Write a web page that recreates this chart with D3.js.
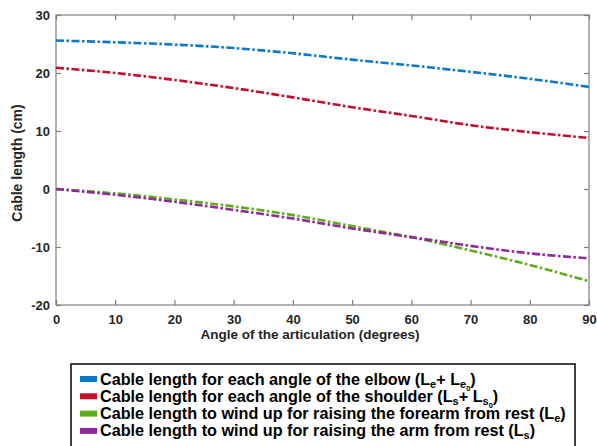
<!DOCTYPE html>
<html>
<head>
<meta charset="utf-8">
<script src="https://cdn.jsdelivr.net/npm/d3@7"></script>
<style>
  body { margin: 0; background: #fff; }
  svg { display: block; font-family: "Liberation Sans", Arial, sans-serif; }
</style>
</head>
<body>
<div id="chart"></div>
<script>
// angles in degrees
const angles = [0, 10, 20, 30, 40, 50, 60, 70, 80, 90];

// cable lengths (cm)
const elbowTotal    = [25.6, 25.3, 24.9, 24.3, 23.4, 22.3, 21.3, 20.2, 19.0, 17.6];
const shoulderTotal = [20.9, 20.0, 18.8, 17.4, 15.8, 14.1, 12.6, 11.0, 9.8, 8.8];
const forearmWind   = [0, -0.75, -1.8, -3.0, -4.5, -6.4, -8.3, -10.6, -13.1, -15.9];
const armWind       = [0, -1.0, -2.2, -3.6, -5.1, -6.8, -8.3, -9.8, -11.1, -11.95];

const xTicks = [0, 10, 20, 30, 40, 50, 60, 70, 80, 90];
const yTicks = [-20, -10, 0, 10, 20, 30];

const seriesColors = ["#0a78cc", "#c40f2c", "#5fac1f", "#92299a"];
const seriesValues = [elbowTotal, shoulderTotal, forearmWind, armWind];

const width = 597, height = 446;
const margin = { left: 56, right: 8, top: 15, bottom: 141 };

const svg = d3.select("#chart").append("svg")
    .attr("width", width)
    .attr("height", height);

const x = d3.scaleLinear()
    .domain([0, 90])
    .range([margin.left, width - margin.right]);

const y = d3.scaleLinear()
    .domain([-20, 30])
    .range([height - margin.bottom, margin.top]);

const axisColor = "#7f7f7f";
const textColor = "#262626";
const fmt = d => String(d); // plain hyphen like matlab

// box
svg.append("rect")
    .attr("x", x(0))
    .attr("y", y(30))
    .attr("width", x(90) - x(0))
    .attr("height", y(-20) - y(30))
    .attr("fill", "none")
    .attr("stroke", axisColor)
    .attr("stroke-width", 1.2);

// axes, ticks inside (matlab style)
const tickLen = 5;
const xAxis = svg.append("g")
    .attr("transform", `translate(0,${y(-20)})`)
    .call(d3.axisBottom(x).tickValues(xTicks).tickSize(-tickLen).tickPadding(10).tickFormat(fmt));
const yAxis = svg.append("g")
    .attr("transform", `translate(${x(0)},0)`)
    .call(d3.axisLeft(y).tickValues(yTicks).tickSize(-tickLen).tickPadding(6).tickFormat(fmt));
const xAxisTop = svg.append("g")
    .attr("transform", `translate(0,${y(30)})`)
    .call(d3.axisTop(x).tickValues(xTicks).tickSize(-tickLen).tickFormat(""));
const yAxisRight = svg.append("g")
    .attr("transform", `translate(${x(90)},0)`)
    .call(d3.axisRight(y).tickValues(yTicks).tickSize(-tickLen).tickFormat(""));

[xAxis, yAxis, xAxisTop, yAxisRight].forEach(g => {
    g.select(".domain").remove();
    g.selectAll(".tick line").attr("stroke", axisColor).attr("stroke-width", 1.2);
    g.selectAll(".tick text")
        .attr("fill", textColor)
        .style("font-size", "13px")
        .style("font-weight", "bold");
});

// axis titles
svg.append("text")
    .attr("x", 310)
    .attr("y", 339)
    .attr("text-anchor", "middle")
    .attr("fill", textColor)
    .style("font-size", "13.5px")
    .style("font-weight", "bold")
    .text("Angle of the articulation (degrees)");

svg.append("text")
    .attr("transform", `translate(22,${(y(30) + y(-20)) / 2 + 3}) rotate(-90)`)
    .attr("text-anchor", "middle")
    .attr("fill", textColor)
    .style("font-size", "14px")
    .style("font-weight", "bold")
    .text("Cable length (cm)");

// lines
const line = d3.line()
    .x((d, i) => x(angles[i]))
    .y(d => y(d))
    .curve(d3.curveMonotoneX);

seriesValues.forEach((vals, k) => {
    svg.append("path")
        .datum(vals)
        .attr("fill", "none")
        .attr("stroke", seriesColors[k])
        .attr("stroke-width", 2.6)
        .attr("stroke-dasharray", "8,2.5,2.5,2.5")
        .attr("d", line);
});

// legend
const legend = svg.append("g").attr("id", "legend");
legend.append("rect")
    .attr("x", 71)
    .attr("y", 364)
    .attr("width", 504)
    .attr("height", 100)
    .attr("fill", "#fff")
    .attr("stroke", "#111")
    .attr("stroke-width", 1.6);

const legendTexts = [
    [["Cable length for each angle of the elbow (L", 0], ["e", 1], ["+ L", 0], ["e", 1], ["0", 2], [")", 0]],
    [["Cable length for each angle of the shoulder (L", 0], ["s", 1], ["+ L", 0], ["s", 1], ["0", 2], [")", 0]],
    [["Cable length to wind up for raising the forearm from rest (L", 0], ["e", 1], [")", 0]],
    [["Cable length to wind up for raising the arm from rest (L", 0], ["s", 1], [")", 0]]
];

legendTexts.forEach((parts, i) => {
    const cy = 379 + i * 17.3;
    legend.append("rect")
        .attr("x", 80)
        .attr("y", cy - 3)
        .attr("width", 17)
        .attr("height", 6)
        .attr("fill", seriesColors[i]);
    const t = legend.append("text")
        .attr("x", 100)
        .attr("y", cy + 5.5)
        .attr("fill", "#000")
        .style("font-size", "16.2px")
        .style("font-weight", "bold");
    let level = 0;
    parts.forEach(([s, lv]) => {
        const dy = (lv - level) * 3;
        t.append("tspan")
            .attr("dy", dy)
            .style("font-size", lv === 0 ? "16.2px" : lv === 1 ? "11px" : "7.5px")
            .text(s);
        level = lv;
    });
});
</script>
</body>
</html>
